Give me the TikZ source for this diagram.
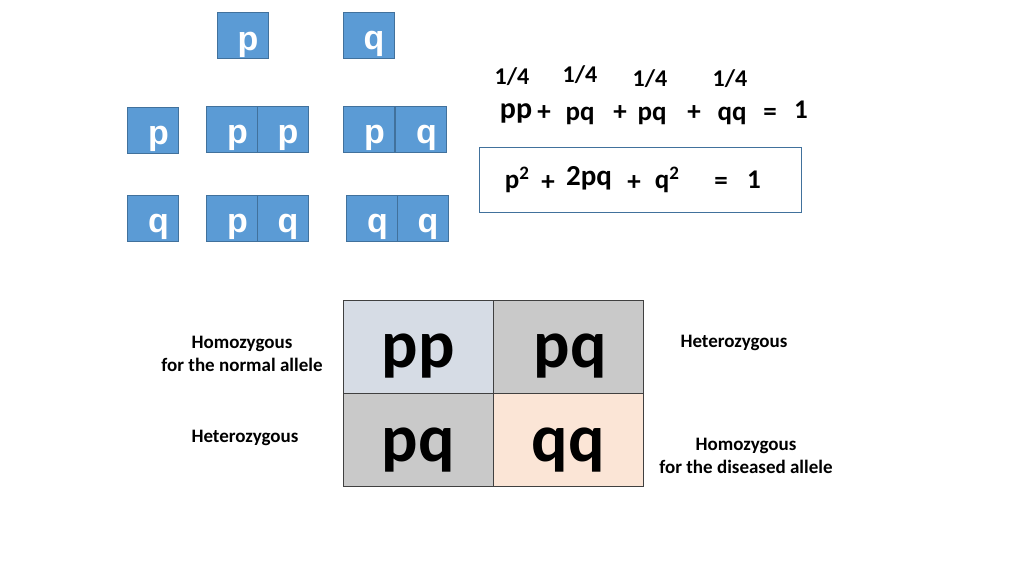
\documentclass[tikz,border=0pt]{standalone}
\usepackage{fontspec}
\setmainfont{Carlito}
\newfontfamily\arialb{Liberation Sans}[BoldFont=* Bold]
\definecolor{boxblue}{HTML}{5B9BD5}
\definecolor{boxedge}{HTML}{41719C}
\definecolor{cellA}{HTML}{D6DCE5}
\definecolor{cellB}{HTML}{C9C9C9}
\definecolor{cellC}{HTML}{FBE5D6}
\definecolor{gridedge}{HTML}{404040}
\tikzset{
  allele/.style={draw=boxedge, fill=boxblue, line width=0.8pt, minimum width=51pt, minimum height=46pt, inner sep=0pt},
  letter/.style={inner sep=0pt, anchor=base, text=white, font=\arialb\bfseries\fontsize{34}{34}\selectfont},
  frac/.style={inner sep=0pt, font=\bfseries\fontsize{24}{24}\selectfont},
  eqtxt/.style={inner sep=0pt, anchor=base, font=\bfseries\fontsize{27}{27}\selectfont},
  celltxt/.style={inner sep=0pt, anchor=base, font=\bfseries\fontsize{68}{68}\selectfont},
  lbl/.style={inner sep=0pt, align=center, font=\bfseries\fontsize{19}{22.5}\selectfont},
  cell/.style={draw=gridedge, line width=0.8pt, minimum width=150pt, minimum height=93pt, inner sep=0pt}
}
\newcommand\allelebox[4]{%
  \node[allele] (#1) at (#2,#3) {};
  \node[letter] (#1t) at ([xshift=5.5pt,yshift=-14.5pt]#1.center) {#4};}
\newcommand\sqr{\raisebox{0.33em}{\fontsize{19}{19}\selectfont 2}}
\begin{document}
\begin{tikzpicture}[x=1pt,y=-1pt]
\useasboundingbox (0,0) rectangle (1024,576);
% top alleles
\allelebox{tp}{242.5}{35.5}{p}
\allelebox{tq}{368.5}{35}{q}
% row 2
\allelebox{rtp}{153}{130}{p}
\allelebox{ppa}{232}{129}{p}
\allelebox{ppb}{282.5}{129}{p}
\allelebox{pqa}{369}{129}{p}
\allelebox{pqb}{421}{129}{q}
% row 3
\allelebox{rtq}{153}{218}{q}
\allelebox{pqc}{232}{218}{p}
\allelebox{pqd}{282.5}{218}{q}
\allelebox{qqa}{372}{218}{q}
\allelebox{qqb}{422.5}{218}{q}
% probabilities
\node[frac] (f1) at (512,77) {1/4};
\node[frac] (f2) at (580,75) {1/4};
\node[frac] (f3) at (650,79) {1/4};
\node[frac] (f4) at (730,79) {1/4};
% equation line
\node[eqtxt, font=\bfseries\fontsize{30}{30}\selectfont] (e1) at (516,118) {pp};
\node[eqtxt] (e2) at (544,120) {+};
\node[eqtxt] (e3) at (580,120) {pq};
\node[eqtxt] (e4) at (620,120) {+};
\node[eqtxt] (e5) at (652,120) {pq};
\node[eqtxt] (e6) at (694,120) {+};
\node[eqtxt] (e7) at (732,120) {qq};
\node[eqtxt] (e8) at (770,120) {=};
\node[eqtxt] (e9) at (801,118) {1};
% boxed equation
\node[draw=boxedge, line width=1.6pt, minimum width=322pt, minimum height=65pt, inner sep=0pt] (hw) at (640.5,180) {};
\node[eqtxt] (h1) at (517,188) {p\sqr};
\node[eqtxt] (h2) at (548,190) {+};
\node[eqtxt, font=\bfseries\fontsize{29}{29}\selectfont] (h3) at (589,185) {2pq};
\node[eqtxt] (h4) at (634,190) {+};
\node[eqtxt] (h5) at (667,188) {q\sqr};
\node[eqtxt] (h6) at (721,189) {=};
\node[eqtxt] (h7) at (754,188) {1};
% Punnett grid
\node[cell, fill=cellA] (c11) at (418,346.5) {};
\node[cell, fill=cellB] (c12) at (568.5,346.5) {};
\node[cell, fill=cellB] (c21) at (418,439.5) {};
\node[cell, fill=cellC] (c22) at (568.5,439.5) {};
\node[celltxt] (t11) at (418,367) {pp};
\node[celltxt] (t12) at (570,367) {pq};
\node[celltxt] (t21) at (418,461) {pq};
\node[celltxt] (t22) at (568,461) {qq};
% labels
\node[lbl] (l1) at (242,354) {Homozygous\\for the normal allele};
\node[lbl] (l2) at (734,343) {Heterozygous};
\node[lbl] (l3) at (245,438) {Heterozygous};
\node[lbl] (l4) at (746,456) {Homozygous\\for the diseased allele};
\end{tikzpicture}
\end{document}
